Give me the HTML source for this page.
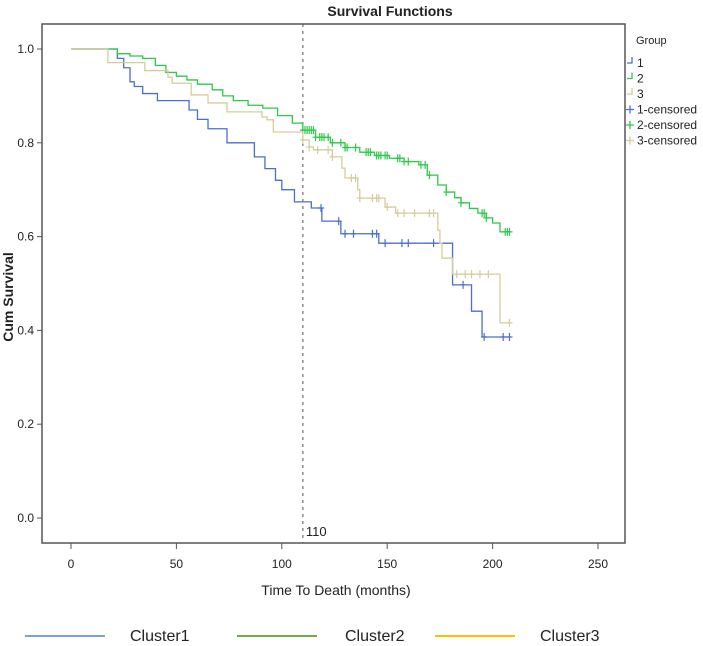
<!DOCTYPE html>
<html><head><meta charset="utf-8"><style>
body{margin:0;background:#fff;width:703px;height:646px;overflow:hidden}
svg{display:block}
text{font-family:"Liberation Sans Narrow","Liberation Sans",sans-serif;fill:#222}
</style></head><body>
<svg id="chart" width="703" height="646">
<rect x="42" y="24" width="583" height="519" fill="none" stroke="#555" stroke-width="1.5"/>
<text x="390" y="16" text-anchor="middle" font-size="14" font-weight="bold">Survival Functions</text>
<text x="336" y="595" text-anchor="middle" font-size="14">Time To Death (months)</text>
<text transform="translate(13,297) rotate(-90)" text-anchor="middle" font-size="14" font-weight="bold" style="font-family:'Liberation Sans',sans-serif">Cum Survival</text>
<g id="axes"></g>
<g id="series"></g>
<g id="legend"></g>
</svg>
<script>
const xTicks=[0,50,100,150,200,250];
const yTicks=[0.0,0.2,0.4,0.6,0.8,1.0];
const refLine=110;
const groups=['1','2','3'];
const c1Times=[0,22,25,28,30,34,41,56,60,65,74,87,92,97,100,106,114,119,128,146,181,182,190,195,208];
const c1Surv=[1,0.98,0.96,0.93,0.92,0.905,0.89,0.87,0.85,0.83,0.80,0.77,0.745,0.72,0.70,0.674,0.661,0.633,0.606,0.586,0.497,0.497,0.441,0.386,0.386];
const c1Cens=[118.6,127,130,134,143,145,149,157,160,172,186,196,205,208];
const c2Times=[0,22,28,34,40,45,50,55,60,67,72,77,84,91,98,105,110,116,123,130,137,144,151,158,165,169,174,178,182,185,189,193,197,200,203.5,208];
const c2Surv=[1,0.99,0.985,0.98,0.965,0.95,0.942,0.934,0.925,0.913,0.90,0.89,0.88,0.874,0.858,0.842,0.827,0.812,0.80,0.79,0.78,0.773,0.767,0.76,0.753,0.731,0.71,0.695,0.683,0.672,0.66,0.65,0.64,0.629,0.61,0.61];
const c2Cens=[110,111,112,113,114,115,116,118,119,120,122,124,128,130,131,135,140,141,142,145,146,147,149,150,155,156,158,160,166,168,170,178,185,195,196,197,206,207,208];
const c3Times=[0,17.5,35,46,48,57,65,74,90.6,93,96,110,113,115,124,128.5,130,136,137,149,154,174,175,176,181,203.5,208];
const c3Surv=[1,0.971,0.954,0.94,0.927,0.902,0.885,0.866,0.855,0.849,0.823,0.806,0.791,0.785,0.77,0.746,0.725,0.70,0.682,0.663,0.65,0.614,0.586,0.554,0.52,0.416,0.416];
const c3Cens=[110,113,117,122,124,133,135,137,143,145,146,150,155,158,163,170,172,183,187,190,194,198,208];
const colors=['#4a6fd1','#2ec84a','#d6cc9a'];
const NS='http://www.w3.org/2000/svg';
const X=t=>71+t*2.108;
const Y=s=>518-s*469;
function mk(tag,attrs,parent){const e=document.createElementNS(NS,tag);for(const k in attrs)e.setAttribute(k,attrs[k]);parent.appendChild(e);return e;}
const axes=document.getElementById('axes');
xTicks.forEach(t=>{
  const l=mk('line',{x1:X(t),x2:X(t),y1:543,y2:549,stroke:'#555'},axes);
  
  
  const tx=mk('text',{x:X(t),y:568,'text-anchor':'middle','font-size':12},axes);
  tx.textContent=t;
  
  
});
yTicks.forEach(s=>{
  const l=mk('line',{x1:37,x2:42,y1:Y(s),y2:Y(s),stroke:'#555'},axes);
  
  
  const tx=mk('text',{x:34,y:Y(s)+4,'text-anchor':'end','font-size':12},axes);
  tx.textContent=s.toFixed(1);
  
  
});
const rl=mk('line',{x1:X(refLine),x2:X(refLine),y1:24,y2:543,stroke:'#555','stroke-dasharray':'3,4'},axes);


const rlt=mk('text',{x:X(refLine)+3,y:536,'font-size':13},axes);
rlt.textContent=refLine;


function survAt(ts,ss,t){let v=ss[0];for(let i=0;i<ts.length;i++){if(ts[i]<=t)v=ss[i];}return v;}
const series=document.getElementById('series');
[[c1Times,c1Surv,c1Cens],[c2Times,c2Surv,c2Cens],[c3Times,c3Surv,c3Cens]].forEach((d,gi)=>{
  const [ts,ss,cs]=d;
  let p='M'+X(ts[0])+','+Y(ss[0]);
  for(let i=1;i<ts.length;i++){p+=' H'+X(ts[i])+' V'+Y(ss[i]);}
  const path=mk('path',{d:p,fill:'none',stroke:colors[gi],'stroke-width':1.3},series);
  
  
  cs.forEach(t=>{
    const x=X(t),y=Y(survAt(ts,ss,t));
    const m=mk('path',{d:`M${x-3},${y}H${x+3}M${x},${y-4}V${y+4}`,stroke:colors[gi],'stroke-width':1.2},series);
    
    
  });
});
const lg=document.getElementById('legend');
const gt=mk('text',{x:636,y:44,'font-size':11},lg);
gt.textContent='Group';


const legLabels=['1','2','3','1-censored','2-censored','3-censored'];
legLabels.forEach((lab,i)=>{
  const y=63+i*15.5;const c=colors[i%3];
  const sym=i<3?mk('path',{d:`M627,${y}H632V${y-6}`,fill:'none',stroke:c,'stroke-width':1.3},lg):mk('path',{d:`M626,${y}H634M630,${y-4}V${y+4}`,stroke:c,'stroke-width':1.3},lg);
  
  
  const t=mk('text',{x:637,y:y+4,'font-size':12},lg);
  t.textContent=lab;
  
  
});
const bl=[['Cluster1','#7aa0e0',25,130],['Cluster2','#70ad47',237,345],['Cluster3','#ffc000',435,540]];
bl.forEach(b=>{
  const l=mk('line',{x1:b[2],x2:b[2]+80,y1:636,y2:636,stroke:b[1],'stroke-width':2},lg);
  
  
  const t=mk('text',{x:b[3],y:641,'font-size':16,style:'font-family:"Liberation Sans",sans-serif'},lg);
  t.textContent=b[0];
  
  
});
</script>
</body></html>
